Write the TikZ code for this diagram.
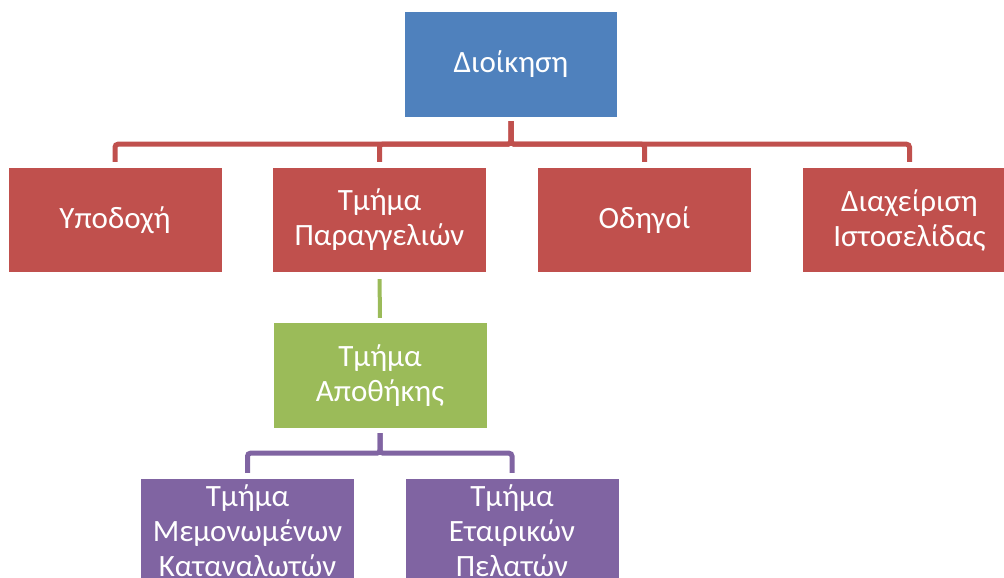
\documentclass[tikz,border=0pt]{standalone}
\usepackage{fontspec}
\setmainfont{Carlito}
\definecolor{cblue}{HTML}{4F81BD}
\definecolor{cred}{HTML}{C0504D}
\definecolor{cgreen}{HTML}{9BBB59}
\definecolor{cpurple}{HTML}{8064A2}
\tikzset{
  box/.style={rectangle, minimum width=213pt, minimum height=104pt, inner sep=0pt,
    align=center, text=white, font=\fontsize{31}{35}\selectfont},
  bluebox/.style={box, fill=cblue},
  redbox/.style={box, fill=cred},
  greenbox/.style={box, fill=cgreen},
  purplebox/.style={box, fill=cpurple},
  conn/.style={line width=5pt, rounded corners=3pt},
}
\begin{document}
\begin{tikzpicture}[x=1pt,y=-1pt]
\useasboundingbox (0,0) rectangle (1004,578);
\node[bluebox, minimum height=105pt, minimum width=212pt] (top) at (511,64.5) {Διοίκηση};
\node[redbox] (c1) at (115,220) {Υποδοχή};
\node[redbox] (c2) at (379.5,220) {Τμήμα\\Παραγγελιών};
\node[redbox] (c3) at (644.5,220) {Οδηγοί};
\node[redbox] (c4) at (909.5,220) {Διαχείριση\\Ιστοσελίδας};
\node[greenbox, minimum height=105pt] (g) at (380,375.5) {Τμήμα\\Αποθήκης};
\node[purplebox] (p1) at (247.5,531) {Τμήμα\\Μεμονωμένων\\Καταναλωτών};
\node[purplebox] (p2) at (512,531) {Τμήμα\\Εταιρικών\\Πελατών};
\path (top.south) ++(0,27) coordinate (bar);
\path (g.south) ++(0,25) coordinate (pbar);
\foreach \c in {c1,c2,c3,c4}{
  \draw[conn, draw=cred, shorten <=4pt, shorten >=6pt] (top.south) -- (bar) -| (\c.north);
}
\draw[line width=4pt, draw=cgreen, shorten <=7pt, shorten >=5pt] (c2.south) -- (g.north);
\foreach \c in {p1,p2}{
  \draw[conn, draw=cpurple, shorten <=5pt, shorten >=6pt] (g.south) -- (pbar) -| (\c.north);
}
\end{tikzpicture}
\end{document}
